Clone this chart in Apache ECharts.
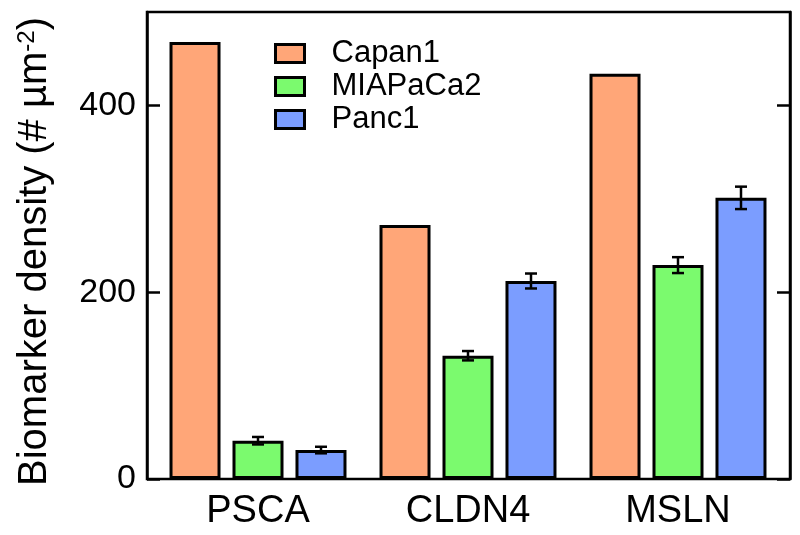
<!DOCTYPE html>
<html>
<head>
<meta charset="utf-8">
<script src="https://cdn.jsdelivr.net/npm/echarts@6/dist/echarts.min.js"></script>
<style>
html,body{margin:0;padding:0;background:#fff;}
#chart{width:800px;height:535px;}
</style>
</head>
<body>
<div id="chart"></div>
<script>
var categories = ['PSCA', 'CLDN4', 'MSLN'];
var seriesNames = ['Capan1', 'MIAPaCa2', 'Panc1'];
var capan1 = [468, 272, 434];
var capan1Err = [0, 0, 0];
var miapaca2 = [41, 132, 229];
var miapaca2Err = [4, 5, 8.5];
var panc1 = [31, 212, 301];
var panc1Err = [3.5, 8, 12];
var yTicks = [0, 200, 400];
var colors = ['#FFA678', '#7BFA6E', '#7B9DFF'];

var FONT = 'Liberation Sans, Arial, sans-serif';
var BAR_W = 51, BAR_STEP = 63;

var values = [capan1, miapaca2, panc1];
var errs = [capan1Err, miapaca2Err, panc1Err];

var errData = [];
for (var s = 0; s < 3; s++) {
  for (var c = 0; c < categories.length; c++) {
    if (errs[s][c] > 0) errData.push([c, values[s][c], errs[s][c], s]);
  }
}

var barSeries = seriesNames.map(function (name, i) {
  return {
    name: name,
    type: 'bar',
    xAxisIndex: 0,
    yAxisIndex: 0,
    data: values[i],
    barWidth: BAR_W,
    barGap: '23.5%',
    itemStyle: { color: colors[i], borderColor: '#000', borderWidth: 3 },
    emphasis: { disabled: true },
    animation: false
  };
});

var errSeries = {
  type: 'custom',
  xAxisIndex: 0,
  yAxisIndex: 0,
  data: errData,
  z: 10,
  animation: false,
  renderItem: function (params, api) {
    var cat = api.value(0), v = api.value(1), e = api.value(2), si = api.value(3);
    var top = api.coord([cat, v + e]);
    var bot = api.coord([cat, v - e]);
    var x = top[0] + (si - 1) * BAR_STEP;
    var cap = 6;
    var st = { stroke: '#000', lineWidth: 2.5 };
    return {
      type: 'group',
      children: [
        { type: 'line', shape: { x1: x, y1: top[1], x2: x, y2: bot[1] }, style: st },
        { type: 'line', shape: { x1: x - cap, y1: top[1], x2: x + cap, y2: top[1] }, style: st },
        { type: 'line', shape: { x1: x - cap, y1: bot[1], x2: x + cap, y2: bot[1] }, style: st }
      ]
    };
  }
};

var chart = echarts.init(document.getElementById('chart'), null, { renderer: 'canvas' });
chart.setOption({
  animation: false,
  backgroundColor: '#fff',
  textStyle: { fontFamily: FONT, color: '#000' },
  legend: {
    data: seriesNames,
    orient: 'vertical',
    left: 274,
    top: 38,
    padding: 0,
    itemWidth: 29,
    itemHeight: 18,
    itemGap: 2,
    icon: 'rect',
    selectedMode: false,
    itemStyle: { borderColor: '#000', borderWidth: 3 },
    textStyle: { fontFamily: FONT, fontSize: 31, color: '#000', padding: [0, 0, 0, 22] }
  },
  grid: [
    { left: 153, right: 17, top: 12, bottom: 56, show: false },
    { left: 147, right: 10, top: 12, bottom: 56, show: true, borderColor: '#000', borderWidth: 2.5, backgroundColor: 'transparent' }
  ],
  xAxis: [
    {
      type: 'category', gridIndex: 0, data: categories,
      axisLine: { show: false }, axisTick: { show: false },
      axisLabel: { fontFamily: FONT, fontSize: 38, color: '#000', margin: 14 }
    },
    { type: 'value', gridIndex: 1, show: false, min: 0, max: 1 }
  ],
  yAxis: [
    { type: 'value', gridIndex: 0, min: 0, max: 500, show: false, splitLine: { show: false } },
    {
      type: 'value', gridIndex: 1, position: 'left', min: 0, max: 500,
      axisLine: { show: true, lineStyle: { color: '#000', width: 2.5 } },
      axisTick: { show: true, inside: true, length: 13, lineStyle: { color: '#000', width: 2.5 }, customValues: yTicks },
      axisLabel: { fontFamily: FONT, fontSize: 34, color: '#000', margin: 11, customValues: yTicks },
      splitLine: { show: false },
      name: '{n|Biomarker density (# µm}{s|-2}{n|)}',
      nameLocation: 'middle',
      nameGap: 92,
      nameTextStyle: {
        padding: [0, 12, 0, 0],
        rich: {
          n: { fontFamily: FONT, fontSize: 40, color: '#000' },
          s: { fontFamily: FONT, fontSize: 24, color: '#000', verticalAlign: 'top' }
        }
      }
    },
    {
      type: 'value', gridIndex: 1, position: 'right', min: 0, max: 500,
      axisLine: { show: true, lineStyle: { color: '#000', width: 2.5 } },
      axisTick: { show: true, inside: true, length: 13, lineStyle: { color: '#000', width: 2.5 }, customValues: yTicks },
      axisLabel: { show: false },
      splitLine: { show: false }
    }
  ],
  series: barSeries.concat([errSeries])
});
</script>
</body>
</html>
